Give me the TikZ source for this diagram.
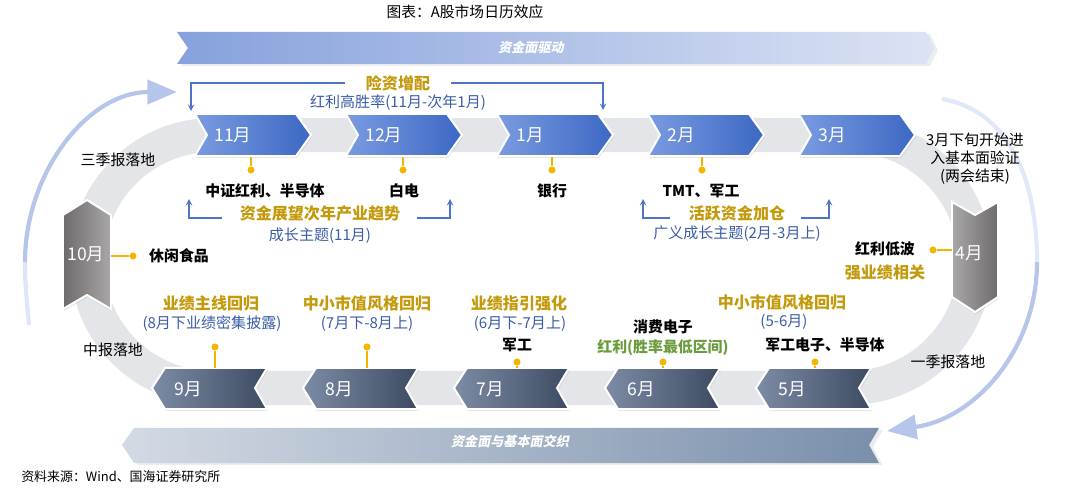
\documentclass[tikz,border=0pt]{standalone}
\usepackage{fontspec}
\setmainfont{Noto Sans CJK SC}
\newfontfamily\bannerfont[FakeSlant=0.2,BoldFeatures={FakeSlant=0.2}]{Noto Sans CJK SC}
\usetikzlibrary{arrows.meta,shadows}

\definecolor{chevblueL}{HTML}{7A9BE0}
\definecolor{chevblueR}{HTML}{3C68C4}
\definecolor{chevslateL}{HTML}{7D8CA5}
\definecolor{chevslateR}{HTML}{3D4B62}
\definecolor{boxgrayD}{HTML}{6E6B6D}
\definecolor{boxgrayL}{HTML}{A9A7A8}
\definecolor{bandtopL}{HTML}{86A1DC}
\definecolor{bandtopR}{HTML}{DCE3F4}
\definecolor{bandbotL}{HTML}{D3DAE4}
\definecolor{bandbotR}{HTML}{7A8FAB}
\definecolor{trackgray}{HTML}{E3E5E8}
\definecolor{arcblue}{HTML}{B5C6EA}
\definecolor{pinyellow}{HTML}{F4B400}
\definecolor{goldtext}{HTML}{C49A0C}
\definecolor{bluetext}{HTML}{3B5CA8}
\definecolor{greentext}{HTML}{6A9B3C}
\definecolor{brkblue}{HTML}{4E74C6}

\tikzset{
  topchev/.style={left color=chevblueL,right color=chevblueR,draw=white,line width=1.4pt,
    drop shadow={opacity=0.18,shadow xshift=0.6pt,shadow yshift=-1.6pt}},
  botchev/.style={left color=chevslateL,right color=chevslateR,draw=white,line width=1.4pt,
    drop shadow={opacity=0.18,shadow xshift=0.6pt,shadow yshift=-1.6pt}},
  sidebox/.style={draw=white,line width=1.4pt,
    drop shadow={opacity=0.15,shadow xshift=0.6pt,shadow yshift=-1.6pt}},
  month/.style={text=white,font=\fontsize{12.5}{14}\selectfont,inner sep=0pt,anchor=west},
  pinline/.style={draw=pinyellow,line width=1.3pt},
  pindot/.style={circle,fill=pinyellow,inner sep=0pt,minimum size=5pt},
  sector/.style={font=\bfseries\fontsize{10.6}{13}\selectfont,inner sep=0pt},
  theme/.style={text=goldtext,font=\bfseries\fontsize{11.4}{13}\selectfont,inner sep=0pt},
  period/.style={text=bluetext,font=\fontsize{10.7}{13}\selectfont,inner sep=0pt},
  stage/.style={font=\fontsize{10.6}{12.8}\selectfont,inner sep=0pt,align=center},
  brk/.style={draw=brkblue,line width=1pt,->},
  bigarc/.style={draw=arcblue,line width=3pt,-{Triangle[length=21pt,width=17pt]}},
  banner/.style={text=white,font=\bannerfont\bfseries\fontsize{9.3}{11}\selectfont,inner sep=0pt},
}

\begin{document}
\begin{tikzpicture}[x=0.025cm,y=-0.025cm,>=stealth]
  \useasboundingbox (0,0) rectangle (1080,491);

  % title and source
  \node[font=\fontsize{10.5}{12}\selectfont,inner sep=0pt] (title) at (465,12) {图表：A股市场日历效应};
  \node[font=\fontsize{9.2}{11}\selectfont,inner sep=0pt,anchor=west] (source) at (21,477) {资料来源：Wind、国海证券研究所};

  % big circulating arrows
  \draw[draw=arcblue!45,line width=3pt] (29,325) to[out=95,in=-90] (25,262);
  \draw[bigarc] (25,262) to[out=90,in=180] (177,92);
  \draw[draw=arcblue!40,line width=3pt] (942,99) to[out=-10,in=90] (1037,262);
  \draw[bigarc] (1037,262) to[out=-90,in=8] (887,431);

  % grey track
  \draw[draw=trackgray,line width=0.85cm,rounded corners=3.15cm] (87,135) rectangle (975,388);

  % top and bottom bands
  \draw[left color=bandtopL,right color=bandtopR,draw=none,
    drop shadow={opacity=0.15,shadow yshift=-1.5pt}]
    (177,32) -- (926,32) -- (934,48) -- (926,64) -- (177,64) -- (188,48) -- cycle;
  \node[banner] (fund) at (531,47) {资金面驱动};
  \draw[left color=bandbotL,right color=bandbotR,draw=none,
    drop shadow={opacity=0.15,shadow yshift=-1.5pt}]
    (122,445) -- (134,428) -- (879,428) -- (869,445) -- (879,463) -- (134,463) -- cycle;
  \node[banner] (mixed) at (510,441) {资金面与基本面交织};

  % months, top row
  \foreach \n/\x in {11/195,12/346,1/497,2/648,3/799} {
    \draw[topchev] (\x,114) -- (\x+101,114) -- (\x+116,135) -- (\x+101,156) -- (\x,156) -- (\x+12,135) -- cycle;
    \node[month] (m\n) at (\x+19,135) {{\n}月};
  }
  % months, bottom row
  \foreach \n/\x in {9/152,8/303,7/454,6/605,5/756} {
    \draw[botchev] (\x,388) -- (\x+13,368) -- (\x+115,368) -- (\x+103,388) -- (\x+115,409) -- (\x+13,409) -- cycle;
    \node[month] (m\n) at (\x+22,389) {{\n}月};
  }
  % October and April
  \draw[sidebox,left color=boxgrayD,right color=boxgrayL]
    (63,215) -- (87,200) -- (111,215) -- (111,309) -- (87,295) -- (63,309) -- cycle;
  \node[month,anchor=center] (m10) at (86,254) {10月};
  \draw[sidebox,left color=boxgrayL,right color=boxgrayD]
    (952,202) -- (975,215) -- (998,202) -- (998,297) -- (975,312) -- (952,297) -- cycle;
  \node[month,anchor=center] (m4) at (969,253) {4月};

  % pins
  \foreach \n/\x in {11/251,12/403,1/552,2/702} {
    \coordinate (p\n) at (\x,157);
    \node[pindot] (d\n) at (\x,170) {};
    \draw[pinline] (p\n) -- (d\n);
  }
  \foreach \n/\x/\y in {9/215/347,8/367/347,7/517/362,6/663/362,5/815/362} {
    \coordinate (p\n) at (\x,368);
    \node[pindot] (d\n) at (\x,\y) {};
    \draw[pinline] (p\n) -- (d\n);
  }
  \coordinate (p10) at (111,256);
  \node[pindot] (d10) at (133,256) {};
  \draw[pinline] (p10) -- (d10);
  \coordinate (p4) at (952,250);
  \node[pindot] (d4) at (933,250) {};
  \draw[pinline] (p4) -- (d4);

  % sectors
  \node[sector] (s11) at (265,191) {中证红利、半导体};
  \node[sector] (s12) at (404,191) {白电};
  \node[sector] (s1) at (552,191) {银行};
  \node[sector] (s2) at (701,191) {TMT、军工};
  \node[sector] (s10) at (179,256) {休闲食品};
  \node[sector] (s4) at (885,249) {红利低波};
  \node[theme] (t4) at (885,272) {强业绩相关};
  \node[sector] (s7) at (517,345) {军工};
  \node[sector] (s6) at (663,327) {消费电子};
  \node[sector,text=greentext] (g6) at (663,348) {红利(胜率最低区间)};
  \node[sector] (s5) at (825,345) {军工电子、半导体};

  % themes of the top row
  \node[theme,inner xsep=15pt] (insure) at (398,83) {险资增配};
  \node[period] (insurep) at (398,103) {红利高胜率(11月-次年1月)};
  \coordinate (ia) at (191,111);
  \coordinate (ib) at (603,110);
  \draw[brk] (insure.west) -| (ia);
  \draw[brk] (insure.east) -| (ib);

  \node[theme] (trend) at (320,213) {资金展望次年产业趋势};
  \node[period] (trendp) at (320,236) {成长主题(11月)};
  \coordinate (ta1) at (222,218);
  \coordinate (ta2) at (189,199);
  \coordinate (tb1) at (417,218);
  \coordinate (tb2) at (450,199);
  \draw[brk] (ta1) -| (ta2);
  \draw[brk] (tb1) -| (tb2);

  \node[theme] (active) at (737,213) {活跃资金加仓};
  \node[period] (activep) at (737,234) {广义成长主题(2月-3月上)};
  \coordinate (aa1) at (670,218);
  \coordinate (aa2) at (643,199);
  \coordinate (ab1) at (801,218);
  \coordinate (ab2) at (829,199);
  \draw[brk] (aa1) -| (aa2);
  \draw[brk] (ab1) -| (ab2);

  % themes of the bottom row
  \node[theme] (r9) at (211,303) {业绩主线回归};
  \node[period] (r9p) at (212,324) {(8月下业绩密集披露)};
  \node[theme] (r8) at (367,303) {中小市值风格回归};
  \node[period] (r8p) at (367,324) {(7月下-8月上)};
  \node[theme] (r7) at (519,303) {业绩指引强化};
  \node[period] (r7p) at (520,324) {(6月下-7月上)};
  \node[theme] (r5) at (782,302) {中小市值风格回归};
  \node[period] (r5p) at (784,322) {(5-6月)};

  % reporting stages
  \node[stage] (q3) at (118,160) {三季报落地};
  \node[stage] (h1) at (113,350) {中报落地};
  \node[stage] (q1) at (948,362) {一季报落地};
  \node[stage] (npc) at (975,159) {3月下旬开始进\\入基本面验证\\(两会结束)};
\end{tikzpicture}
\end{document}
